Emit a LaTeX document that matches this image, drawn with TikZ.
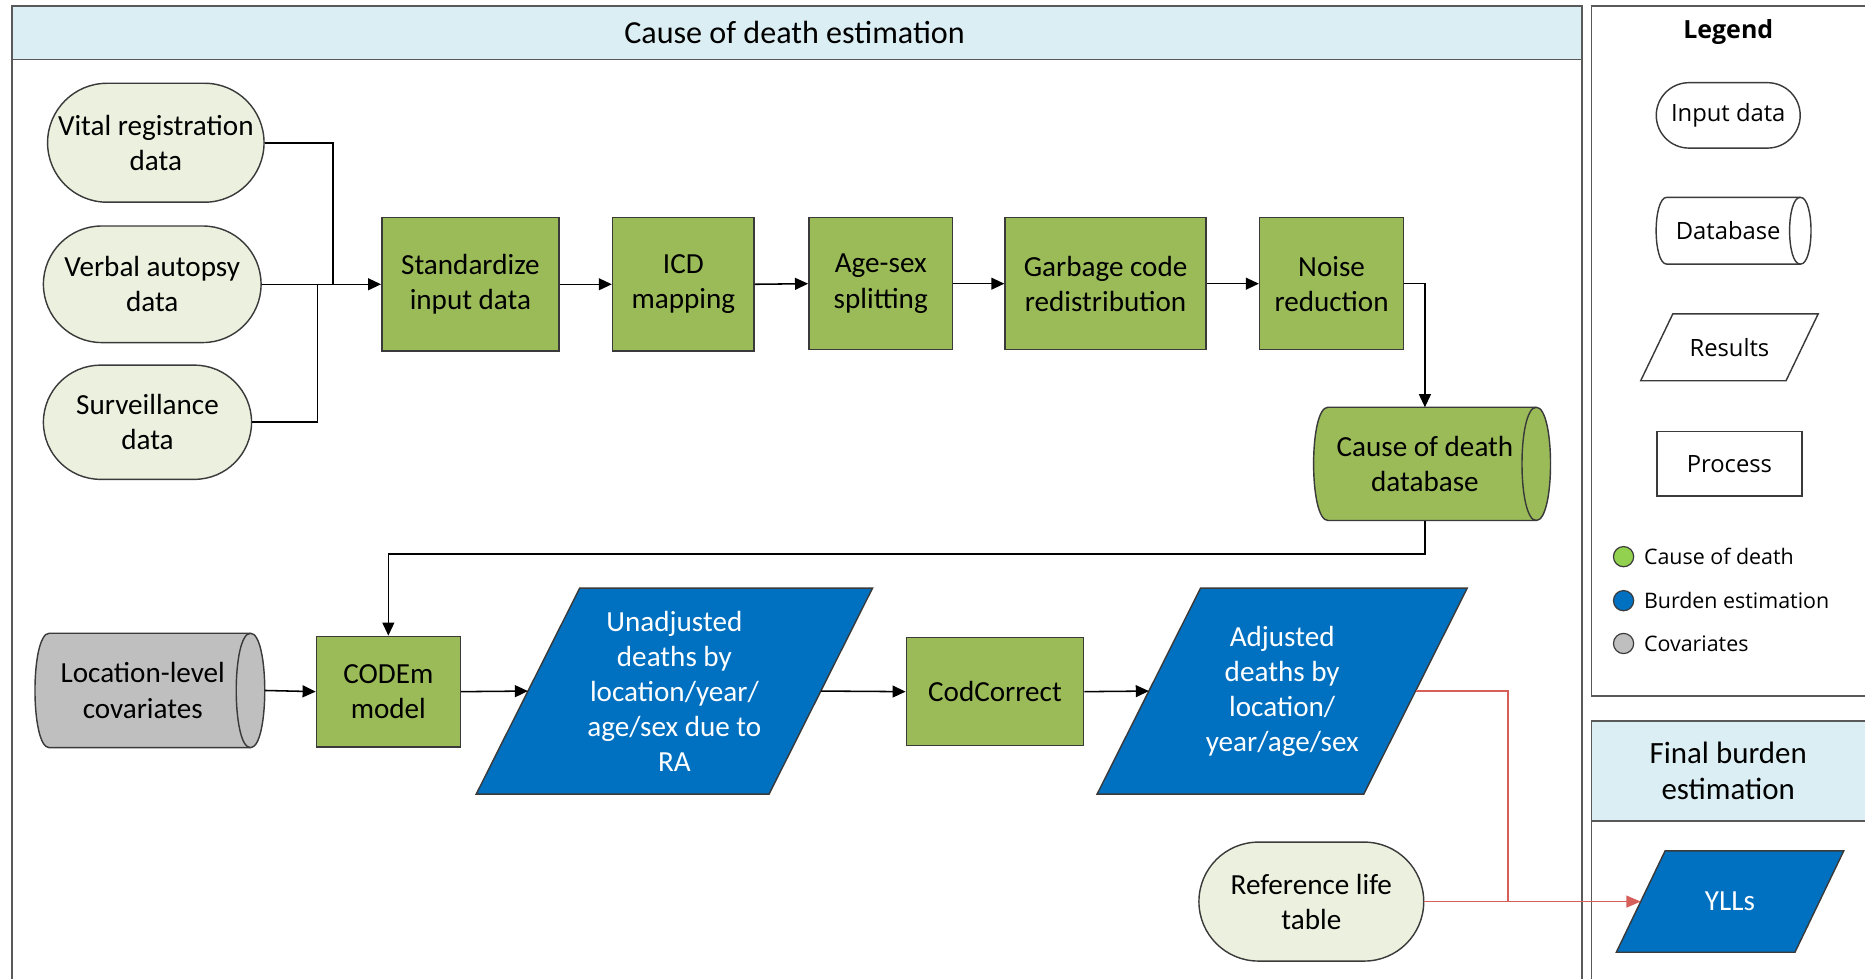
\documentclass[tikz,border=0pt]{standalone}
\usepackage{fontspec}
\setmainfont{Carlito}
\newfontfamily\legfont{Open Sans}
\usetikzlibrary{arrows.meta,shapes.geometric,shapes.misc,backgrounds,calc}

\definecolor{hdrblue}{HTML}{DAEEF3}
\definecolor{procgreen}{HTML}{9BBB59}
\definecolor{inputgreen}{HTML}{EBF1DE}
\definecolor{resblue}{HTML}{0070C0}
\definecolor{covgray}{HTML}{BFBFBF}
\definecolor{edge}{HTML}{3A3A3A}
\definecolor{linkred}{HTML}{D65F5A}
\definecolor{dotgreen}{HTML}{92D050}
\definecolor{framegray}{HTML}{595959}

% cylinder lying on its side, drawn round a plain rectangle node:
% #1 node name, #2 fill colour, #3 radius of the end caps
\newcommand\drawcyl[3]{%
  \begin{scope}[on background layer]
    \path[fill=#2, draw=edge, line width=1.2pt]
      ([xshift=#3pt]#1.north west) -- (#1.north east)
      .. controls +(1.333*#3,0) and +(1.333*#3,0) .. (#1.south east)
      -- ([xshift=#3pt]#1.south west)
      .. controls +(-1.333*#3,0) and +(-1.333*#3,0) .. ([xshift=#3pt]#1.north west)
      -- cycle;
    \draw[edge, line width=1.2pt] (#1.north east)
      .. controls +(-1.333*#3,0) and +(-1.333*#3,0) .. (#1.south east);
  \end{scope}}

% parallelogram leaning right, drawn round a plain rectangle node whose
% west/east anchors fall on the slanted sides at mid height:
% #1 node name, #2 fill colour, #3 half the horizontal slant
\newcommand\drawpara[3]{%
  \begin{scope}[on background layer]
    \path[fill=#2, draw=edge, line width=1.2pt]
      ([xshift=#3pt]#1.north west) -- ([xshift=#3pt]#1.north east)
      -- ([xshift=-#3pt]#1.south east) -- ([xshift=-#3pt]#1.south west) -- cycle;
  \end{scope}}

\begin{document}
\begin{tikzpicture}[x=1pt, y=-1pt,
  base/.style={font=\fontsize{24.5}{29.5}\selectfont, align=center, inner sep=0pt,
    line width=1.2pt, draw=edge},
  process/.style={base, rectangle, fill=procgreen},
  inputdata/.style={base, rounded rectangle, fill=inputgreen},
  result/.style={base, rectangle, draw=none, text=white},
  dbase/.style={base, rectangle, draw=none},
  legtext/.style={font=\legfont\fontsize{20}{24}\selectfont, align=center, inner sep=0pt},
  legitem/.style={font=\legfont\fontsize{18}{21}\selectfont, inner sep=0pt, anchor=west},
  dot/.style={circle, draw=edge, line width=1pt, minimum size=17pt, inner sep=0pt},
  link/.style={line width=1.3pt, draw=black},
  arr/.style={link, -{Triangle[length=11pt,width=10pt]}},
  redlink/.style={line width=1.2pt, draw=linkred},
  redarr/.style={redlink, -{Triangle[length=12pt,width=10pt]}},
  frame/.style={draw=framegray, line width=1.6pt},
  heading/.style={font=\fontsize{27}{31}\selectfont, align=center, inner sep=0pt}
]
\clip (0,0) rectangle (1568,823);

% ---- frames --------------------------------------------------------
\draw[frame, fill=hdrblue] (10,5) rectangle (1330,50);
\draw[frame] (10,5) rectangle (1330,900);
\node[heading] (title) at (668,27) {Cause of death estimation};

\draw[frame] (1338,5) rectangle (1590,585);
\node[font=\legfont\bfseries\fontsize{21}{25}\selectfont, inner sep=0pt] (legtitle) at (1453,27) {Legend};

\draw[frame, fill=hdrblue] (1338,606) rectangle (1590,690);
\draw[frame] (1338,606) rectangle (1590,900);
\node[heading, font=\fontsize{26}{30}\selectfont] (finaltitle) at (1453,648) {Final burden\\estimation};

% ---- legend --------------------------------------------------------
\node[base, rounded rectangle, fill=white, minimum width=121pt, minimum height=55pt, legtext]
  (lgin) at (1453,97) {Input data};
\node[dbase, legtext, minimum width=120pt, minimum height=55pt] (lgdb) at (1453,194) {Database};
\drawcyl{lgdb}{white}{9}
\node[result, text=black, legtext, minimum width=121pt, minimum height=55pt]
  (lgres) at (1454,292) {Results};
\drawpara{lgres}{white}{13.5}
\node[base, rectangle, fill=white, legtext, minimum width=122pt, minimum height=54pt]
  (lgproc) at (1454,390) {Process};

\node[dot, fill=dotgreen] (dotcod) at (1365,468) {};
\node[legitem] (lbcod) at (1382,468) {Cause of death};
\node[dot, fill=resblue] (dotbur) at (1365,505) {};
\node[legitem] (lbbur) at (1382,505) {Burden estimation};
\node[dot, fill=covgray] (dotcov) at (1365,541) {};
\node[legitem] (lbcov) at (1382,541) {Covariates};

% ---- input data ----------------------------------------------------
\node[inputdata, minimum width=182pt, minimum height=100pt] (vital) at (131,120)
  {Vital registration\\data};
\node[inputdata, minimum width=183pt, minimum height=98pt] (verbal) at (128,239)
  {Verbal autopsy\\data};
\node[inputdata, minimum width=175pt, minimum height=96pt] (surv) at (124,355)
  {Surveillance\\data};

% ---- processing chain ---------------------------------------------
\node[process, minimum width=149pt, minimum height=112pt] (std) at (395.5,239)
  {Standardize\\input data};
\node[process, minimum width=119pt, minimum height=112pt] (icd) at (574.5,239)
  {ICD\\mapping};
\node[process, minimum width=121pt, minimum height=111pt] (agesex) at (740.5,238.5)
  {Age-sex\\splitting};
\node[process, minimum width=169pt, minimum height=111pt] (garbage) at (929.5,238.5)
  {Garbage code\\redistribution};
\node[process, minimum width=121pt, minimum height=111pt] (noise) at (1119.5,238.5)
  {Noise\\reduction};

\node[dbase, minimum width=186pt, minimum height=94pt] (db) at (1198,390)
  {Cause of death\\database};
\drawcyl{db}{procgreen}{12}

% ---- modelling -----------------------------------------------------
\node[dbase, minimum width=180pt, minimum height=95pt] (cov) at (120,580.5)
  {Location-level\\covariates};
\drawcyl{cov}{covgray}{12}
\node[process, minimum width=121pt, minimum height=93pt] (codem) at (326.5,581.5)
  {CODEm\\model};
\node[result, minimum width=245pt, minimum height=172pt] (unadj) at (567,581)
  {Unadjusted\\deaths by\\location/year/\\age/sex due to\\RA};
\drawpara{unadj}{resblue}{43.5}
\node[process, minimum width=149pt, minimum height=91pt] (codcorr) at (836.5,581.5)
  {CodCorrect};
\node[result, minimum width=223pt, minimum height=172pt] (adj) at (1078,581)
  {Adjusted\\deaths by\\location/\\year/age/sex};
\drawpara{adj}{resblue}{43.5}

\node[inputdata, minimum width=189pt, minimum height=100pt] (ref) at (1102.5,758)
  {Reference life\\table};
\node[result, minimum width=149pt, minimum height=84pt] (ylls) at (1454.5,758) {YLLs};
\drawpara{ylls}{resblue}{20.5}

% ---- connectors ----------------------------------------------------
\coordinate (jv) at (280,239);
\coordinate (js) at (267,239);
\draw[link] (vital.east) -| (jv);
\draw[link] (surv.east) -| (js);
\draw[arr] (verbal.east) -- (std.west);
\draw[arr] (std.east) -- (icd.west);
\draw[arr] (icd.east) -- (agesex.west);
\draw[arr] (agesex.east) -- (garbage.west);
\draw[arr] (garbage.east) -- (noise.west);
\draw[arr] (noise.east) -| (db.north);
\draw[arr] (db.south) -- ++(0,28) -| (codem.north);
\draw[arr] ([xshift=12pt]cov.east) -- (codem.west);
\draw[arr] (codem.east) -- (unadj.west);
\draw[arr] (unadj.east) -- (codcorr.west);
\draw[arr] (codcorr.east) -- (adj.west);

\coordinate (merge) at (1268,758);
\draw[redlink] (adj.east) -| (merge);
\draw[redarr] (ref.east) -- (ylls.west);
\end{tikzpicture}
\end{document}
